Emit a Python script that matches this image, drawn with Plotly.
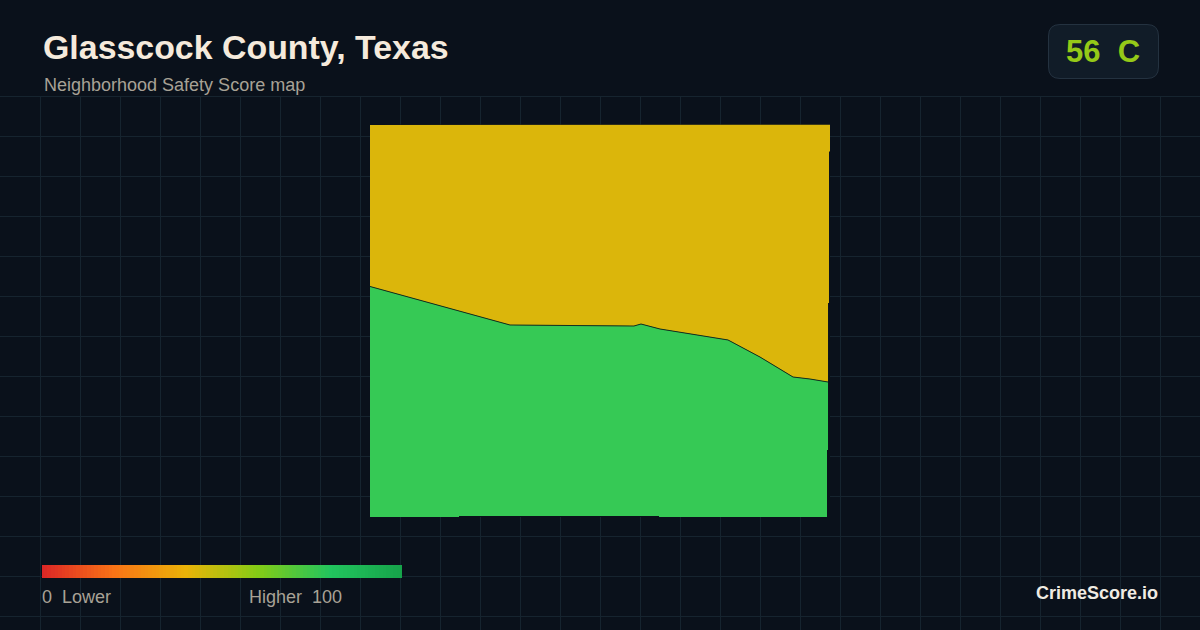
import plotly.graph_objects as go

# map outline, in percent of the county's bounding box
border_x = [0, 13.04, 30.43, 43.48, 57.39, 58.91, 63.04, 77.83, 84.78, 91.96, 95.65, 99.57]
border_y = [58.73, 54.52, 48.92, 48.79, 48.66, 49.17, 47.90, 45.10, 40.76, 35.67, 35.16, 34.39]

north_x = [0, 7.83, 7.83, 100, 100, 99.78, 99.78, 99.57]
north_y = [99.87, 99.87, 100, 100, 93.1, 93.1, 54.5, 54.5]
south_x = [99.57, 99.35, 99.35, 62.83, 62.83, 19.35, 19.35, 0]
south_y = [17.07, 17.07, 0, 0, 0.25, 0.25, 0, 0]

legend_scores = list(range(0, 101))
legend_colors = [
    [0, "#dc2626"],
    [0.2, "#f97316"],
    [0.4, "#eab308"],
    [0.6, "#84cc16"],
    [0.8, "#22c55e"],
    [1, "#16a34a"],
]

bg = "#0a111b"
grid = "#16242f"


def px(x):
    return x / 1200


def py(y):
    return 1 - y / 630


fig = go.Figure()

# empty trace so the background grid axes get drawn
fig.add_trace(go.Scatter(x=[None], y=[None], mode="lines", hoverinfo="skip"))

# yellow part, closed along the border from east to west
fig.add_trace(
    go.Scatter(
        x=north_x + border_x[::-1],
        y=north_y + border_y[::-1],
        xaxis="x3",
        yaxis="y3",
        mode="lines",
        fill="toself",
        fillcolor="#dbb60b",
        line=dict(width=0),
        cliponaxis=False,
        hoverinfo="skip",
    )
)

# green part
fig.add_trace(
    go.Scatter(
        x=border_x + south_x,
        y=border_y + south_y,
        xaxis="x3",
        yaxis="y3",
        mode="lines",
        fill="toself",
        fillcolor="#36c955",
        line=dict(width=0),
        cliponaxis=False,
        hoverinfo="skip",
    )
)

# thin dark edge between the two
fig.add_trace(
    go.Scatter(
        x=border_x,
        y=border_y,
        xaxis="x3",
        yaxis="y3",
        mode="lines",
        line=dict(color="#14301f", width=1),
        cliponaxis=False,
        hoverinfo="skip",
    )
)

# legend bar
fig.add_trace(
    go.Heatmap(
        x=legend_scores,
        y=[0],
        z=[legend_scores],
        xaxis="x2",
        yaxis="y2",
        colorscale=legend_colors,
        zmin=0,
        zmax=100,
        showscale=False,
        hoverinfo="skip",
    )
)

hidden = dict(visible=False, showgrid=False, zeroline=False, fixedrange=True)

fig.update_layout(
    width=1200,
    height=630,
    margin=dict(l=0, r=0, t=0, b=0),
    paper_bgcolor=bg,
    plot_bgcolor=bg,
    showlegend=False,
    xaxis=dict(
        range=[0, 1200],
        tick0=0,
        dtick=40,
        showgrid=True,
        gridcolor=grid,
        gridwidth=1,
        zeroline=False,
        showticklabels=False,
        ticks="",
    ),
    yaxis=dict(
        domain=[0, py(96)],
        range=[630, 96],
        tick0=96,
        dtick=40,
        showgrid=True,
        gridcolor=grid,
        gridwidth=1,
        zeroline=False,
        showticklabels=False,
        ticks="",
    ),
    xaxis2=dict(hidden, domain=[px(42), px(402)], range=[0, 100], anchor="y2"),
    yaxis2=dict(hidden, domain=[py(578), py(565)], range=[-0.5, 0.5], anchor="x2"),
    xaxis3=dict(hidden, domain=[px(370), px(830)], range=[0, 100], anchor="y3"),
    yaxis3=dict(hidden, domain=[py(517), py(124.5)], range=[0, 100], anchor="x3"),
    font=dict(family="Liberation Sans"),
)

# top grid line sits on the plot edge, plotly drops it
fig.add_shape(
    type="line",
    xref="paper",
    yref="paper",
    x0=0,
    x1=1,
    y0=py(96.5),
    y1=py(96.5),
    layer="below",
    line=dict(color=grid, width=1),
)

# score badge
fig.add_shape(
    type="path",
    xref="paper",
    yref="paper",
    path=(
        f"M {px(1060)} {py(24.5)} L {px(1147)} {py(24.5)} "
        f"Q {px(1158.5)} {py(24.5)} {px(1158.5)} {py(36)} L {px(1158.5)} {py(67)} "
        f"Q {px(1158.5)} {py(78.5)} {px(1147)} {py(78.5)} L {px(1060)} {py(78.5)} "
        f"Q {px(1048.5)} {py(78.5)} {px(1048.5)} {py(67)} L {px(1048.5)} {py(36)} "
        f"Q {px(1048.5)} {py(24.5)} {px(1060)} {py(24.5)} Z"
    ),
    fillcolor="#111c28",
    line=dict(color="#243240", width=1),
)


def label(x, y, text, size, color, bold=False, anchor="left"):
    fig.add_annotation(
        x=px(x),
        y=py(y),
        xref="paper",
        yref="paper",
        text=f"<b>{text}</b>" if bold else text,
        showarrow=False,
        xanchor=anchor,
        yanchor="middle",
        align=anchor,
        borderpad=0,
        borderwidth=0,
        font=dict(size=size, color=color, family="Liberation Sans"),
    )


label(42.5, 47, "Glasscock County, Texas", 33.9, "#f5eadc", bold=True)
label(44, 85, "Neighborhood Safety Score map", 18, "#a8a296")
label(1103, 51, "56&nbsp;&nbsp;C", 31, "#95c918", bold=True, anchor="center")
label(42, 597, "0&nbsp;&nbsp;Lower", 18, "#a8a296")
label(249, 597, "Higher&nbsp;&nbsp;100", 18, "#a8a296")
label(1158, 593, "CrimeScore.io", 18, "#f0ebe3", bold=True, anchor="right")

fig.write_html(
    "out.html",
    config=dict(displayModeBar=False),
    post_script="document.body.style.margin='0';document.body.style.overflow='hidden';",
)
